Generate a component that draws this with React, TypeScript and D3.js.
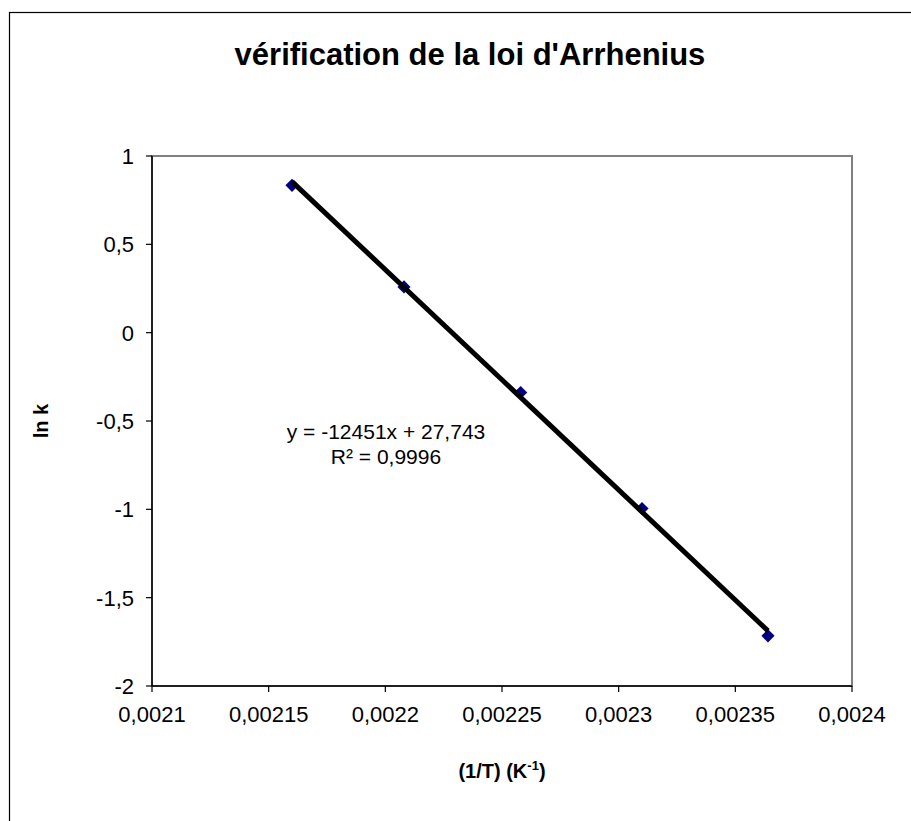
import { useEffect, useRef } from "react";
import * as d3 from "d3";

// 1/T (K^-1) and ln k
const invT = [0.00216, 0.002208, 0.002258, 0.00231, 0.002364];
const lnK = [0.834, 0.259, -0.339, -0.995, -1.716];

const xTicks = [0.0021, 0.00215, 0.0022, 0.00225, 0.0023, 0.00235, 0.0024];
const yTicks = [1, 0.5, 0, -0.5, -1, -1.5, -2];

const title = "vérification de la loi d'Arrhenius";
const eqLines = ["y = -12451x + 27,743", "R² = 0,9996"];

const FONT = "'Liberation Sans', Arial, sans-serif";

export default function App() {
  const svgRef = useRef<SVGSVGElement | null>(null);

  useEffect(() => {
    if (!svgRef.current) return;
    const svg = d3.select(svgRef.current);
    svg.selectAll("*").remove();

    const width = 911;
    const height = 821;
    const plot = { left: 152, top: 156, right: 852, bottom: 686 };

    const fr = d3.formatLocale({
      decimal: ",",
      thousands: " ",
      grouping: [3],
      currency: ["", " €"],
      minus: "-",
    });
    const fx = fr.format(".5~f");
    const fy = fr.format("~g");

    const x = d3.scaleLinear().domain([0.0021, 0.0024]).range([plot.left, plot.right]);
    const y = d3.scaleLinear().domain([-2, 1]).range([plot.bottom, plot.top]);

    svg.attr("width", width).attr("height", height);

    // chart frame (cut off at right and bottom)
    svg
      .append("rect")
      .attr("x", 9.5)
      .attr("y", 12.5)
      .attr("width", 960)
      .attr("height", 860)
      .attr("fill", "#fff")
      .attr("stroke", "#000")
      .attr("stroke-width", 1.2);

    svg
      .append("text")
      .attr("x", 470)
      .attr("y", 65)
      .attr("text-anchor", "middle")
      .attr("font-family", FONT)
      .attr("font-weight", "bold")
      .attr("font-size", 31)
      .text(title);

    // plot area border
    svg
      .append("rect")
      .attr("x", plot.left)
      .attr("y", plot.top)
      .attr("width", plot.right - plot.left)
      .attr("height", plot.bottom - plot.top)
      .attr("fill", "none")
      .attr("stroke", "#808080")
      .attr("stroke-width", 2);

    // axes
    const g = svg.append("g").attr("font-family", FONT).attr("font-size", 22);

    g.append("line")
      .attr("x1", plot.left)
      .attr("x2", plot.left)
      .attr("y1", plot.top)
      .attr("y2", plot.bottom)
      .attr("stroke", "#000")
      .attr("stroke-width", 1.5);
    g.append("line")
      .attr("x1", plot.left)
      .attr("x2", plot.right)
      .attr("y1", plot.bottom)
      .attr("y2", plot.bottom)
      .attr("stroke", "#000")
      .attr("stroke-width", 1.5);

    g.selectAll(".yt")
      .data(yTicks)
      .enter()
      .append("line")
      .attr("x1", plot.left - 6)
      .attr("x2", plot.left)
      .attr("y1", (d) => y(d))
      .attr("y2", (d) => y(d))
      .attr("stroke", "#000")
      .attr("stroke-width", 1.2);
    g.selectAll(".yl")
      .data(yTicks)
      .enter()
      .append("text")
      .attr("x", 134)
      .attr("y", (d) => y(d))
      .attr("dy", "0.36em")
      .attr("text-anchor", "end")
      .text((d) => fy(d));

    g.selectAll(".xt")
      .data(xTicks)
      .enter()
      .append("line")
      .attr("x1", (d) => x(d))
      .attr("x2", (d) => x(d))
      .attr("y1", plot.bottom)
      .attr("y2", plot.bottom + 6)
      .attr("stroke", "#000")
      .attr("stroke-width", 1.2);
    g.selectAll(".xl")
      .data(xTicks)
      .enter()
      .append("text")
      .attr("x", (d) => x(d))
      .attr("y", plot.bottom + 36)
      .attr("text-anchor", "middle")
      .text((d) => fx(d));

    // axis titles
    const xt = svg
      .append("text")
      .attr("x", (plot.left + plot.right) / 2)
      .attr("y", 778)
      .attr("text-anchor", "middle")
      .attr("font-family", FONT)
      .attr("font-weight", "bold")
      .attr("font-size", 20);
    xt.append("tspan").text("(1/T) (K");
    xt.append("tspan").attr("font-size", 13).attr("dy", -8).text("-1");
    xt.append("tspan").attr("dy", 8).text(")");

    svg
      .append("text")
      .attr("transform", `translate(48,${(plot.top + plot.bottom) / 2}) rotate(-90)`)
      .attr("text-anchor", "middle")
      .attr("font-family", FONT)
      .attr("font-weight", "bold")
      .attr("font-size", 20)
      .text("ln k");

    // markers
    const pts = invT.map((v, i) => [v, lnK[i]] as [number, number]);
    const diamond = d3.symbol().type(d3.symbolDiamond2).size(110);
    svg
      .selectAll(".pt")
      .data(pts)
      .enter()
      .append("path")
      .attr("d", diamond)
      .attr("transform", (d) => `translate(${x(d[0])},${y(d[1])})`)
      .attr("fill", "#000080");

    // linear trendline (least squares)
    const mx = d3.mean(invT) as number;
    const my = d3.mean(lnK) as number;
    const slope =
      d3.sum(pts, (d) => (d[0] - mx) * (d[1] - my)) / d3.sum(pts, (d) => (d[0] - mx) ** 2);
    const icpt = my - slope * mx;
    const xs = d3.extent(invT) as [number, number];
    svg
      .append("path")
      .attr(
        "d",
        d3
          .line<number>()
          .x((d) => x(d))
          .y((d) => y(slope * d + icpt))(xs)
      )
      .attr("stroke", "#000")
      .attr("stroke-width", 5)
      .attr("fill", "none");

    // equation label
    svg
      .selectAll(".eq")
      .data(eqLines)
      .enter()
      .append("text")
      .attr("x", 386)
      .attr("y", (_, i) => 439 + i * 25)
      .attr("text-anchor", "middle")
      .attr("font-family", FONT)
      .attr("font-size", 21)
      .text((d) => d);
  }, []);

  return (
    <svg
      ref={svgRef}
      style={{ position: "absolute", left: 0, top: 0, display: "block" }}
    />
  );
}
